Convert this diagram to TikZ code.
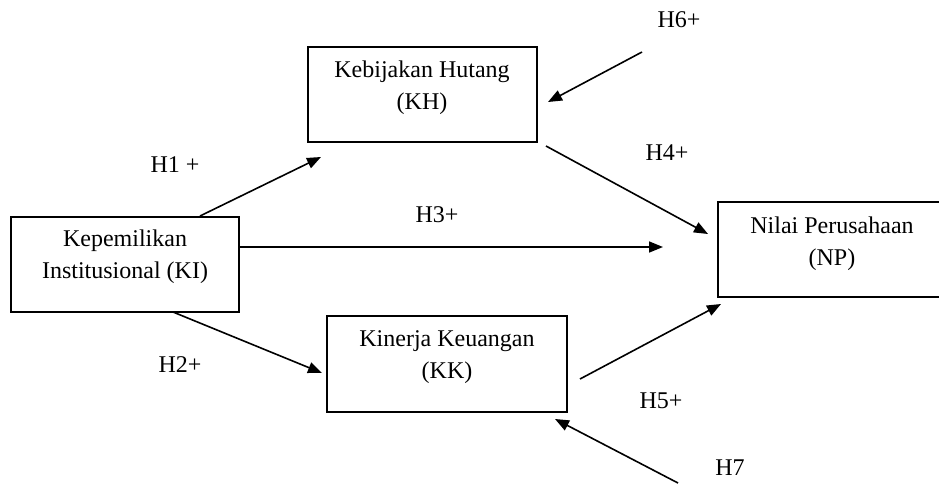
\documentclass[tikz,border=0pt]{standalone}
\usepackage{fontspec}
\setmainfont{Liberation Serif}
\usetikzlibrary{arrows.meta}
\begin{document}
\begin{tikzpicture}[x=1pt,y=-1pt,
  box/.style={draw, line width=1.6pt, minimum width=#1, inner sep=0pt},
  box/.default=228pt,
  txt/.style={align=center, font=\fontsize{24}{32}\selectfont, inner sep=0pt},
  lbl/.style={font=\fontsize{24}{28}\selectfont, inner sep=0pt},
  arr/.style={line width=1.6pt, -{Triangle[length=14pt,width=11pt]}}]
\useasboundingbox (0,0) rectangle (939,483);
% boxes
\node[box=229pt, minimum height=95pt] (KH) at (422.5,94.5) {};
\node[box=228pt, minimum height=95pt] (KI) at (125,264.5) {};
\node[box=224pt, minimum height=95pt] (NP) at (830,249.5) {};
\node[box=240pt, minimum height=96pt] (KK) at (447,364) {};
% texts
\node[txt] (tKH) at (422,88) {Kebijakan Hutang\\(KH)};
\node[txt] (tKI) at (125,257) {Kepemilikan\\Institusional (KI)};
\node[txt] (tNP) at (832,244) {Nilai Perusahaan\\(NP)};
\node[txt] (tKK) at (447,357) {Kinerja Keuangan\\(KK)};
% labels
\node[lbl] (H1) at (175,165) {H1 +};
\node[lbl] (H2) at (180,365) {H2+};
\node[lbl] (H3) at (437,215) {H3+};
\node[lbl] (H4) at (667,153) {H4+};
\node[lbl] (H5) at (661,401) {H5+};
\node[lbl] (H6) at (679,20) {H6+};
\node[lbl] (H7) at (730,468) {H7};
% connector end points
\coordinate (a1) at (200,216);
\coordinate (b1) at (321,157);
\coordinate (a3) at (KI.east |- 0,247);
\coordinate (b3) at (663,247);
\coordinate (a4) at (546,146);
\coordinate (b4) at (708,234);
\coordinate (a2) at (173,312);
\coordinate (b2) at (322,373);
\coordinate (a5) at (580,379);
\coordinate (b5) at (721,304);
\coordinate (a6) at (642,52);
\coordinate (b6) at (548,102);
\coordinate (a7) at (678,483);
\coordinate (b7) at (555,419);
% connectors
\draw[arr] (a1) -- (b1);
\draw[arr] (a3) -- (b3);
\draw[arr] (a4) -- (b4);
\draw[arr] (a2) -- (b2);
\draw[arr] (a5) -- (b5);
\draw[arr] (a6) -- (b6);
\draw[arr] (a7) -- (b7);
\end{tikzpicture}
\end{document}
